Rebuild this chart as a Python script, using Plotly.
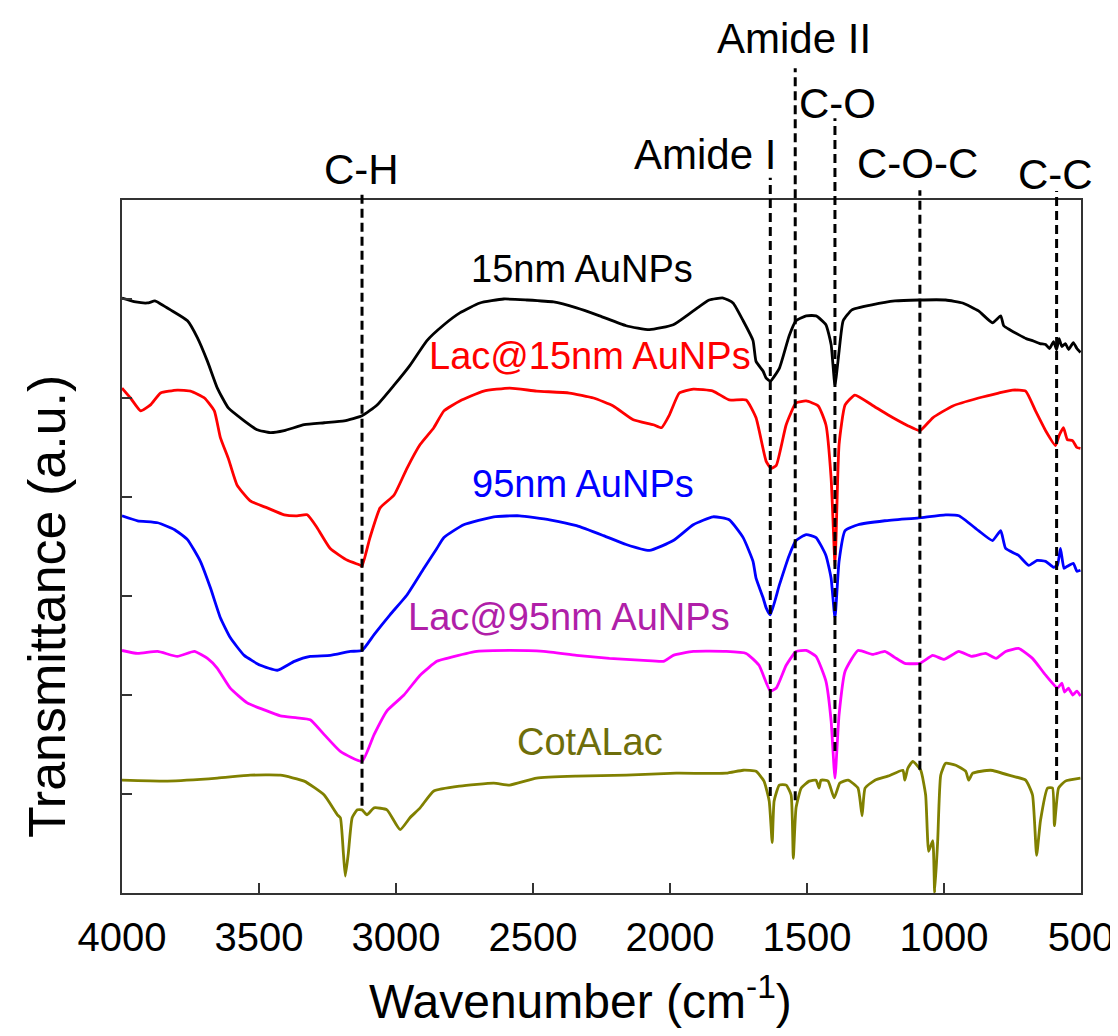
import plotly.graph_objects as go

# ---------------- data (wavenumber in cm-1, transmittance in offset a.u.) ----------------
wn_15 = [4000, 3950, 3907, 3880, 3859, 3823, 3761, 3725, 3688, 3652, 3612, 3554, 3507, 3459, 3408, 3335,
         3262, 3189, 3124, 3069, 3007, 2949, 2887, 2825, 2767, 2694, 2607, 2523, 2425, 2341,
         2257, 2160, 2075, 1988, 1915, 1857, 1806, 1770, 1733, 1697, 1686, 1660, 1649, 1634,
         1601, 1565, 1540, 1503, 1467, 1431, 1412, 1398, 1383, 1368, 1336, 1263, 1179, 1092,
         994, 932, 874, 823, 793, 782, 760, 728, 700, 677, 650, 629, 615, 600, 589, 580, 570,
         557, 545, 528, 515, 502]
t_15 = [6.01, 5.97, 5.96, 5.98, 5.95, 5.89, 5.78, 5.61, 5.37, 5.10, 4.90, 4.77, 4.68, 4.65, 4.67, 4.73,
        4.75, 4.77, 4.82, 4.93, 5.13, 5.33, 5.58, 5.74, 5.86, 5.96, 6.00, 5.99, 5.97, 5.91,
        5.83, 5.73, 5.69, 5.74, 5.88, 5.99, 6.01, 5.96, 5.78, 5.58, 5.37, 5.27, 5.20, 5.17,
        5.30, 5.63, 5.78, 5.83, 5.83, 5.74, 5.54, 5.13, 5.47, 5.78, 5.89, 5.94, 5.98, 5.99,
        5.99, 5.96, 5.88, 5.76, 5.83, 5.73, 5.69, 5.64, 5.60, 5.58, 5.55, 5.54, 5.50, 5.57,
        5.49, 5.60, 5.52, 5.55, 5.49, 5.56, 5.50, 5.46]

wn_lac15 = [4000, 3969, 3932, 3896, 3859, 3798, 3750, 3699, 3663, 3641, 3612, 3580, 3532, 3470,
            3408, 3361, 3324, 3288, 3240, 3177, 3130, 3124, 3095, 3058, 3007, 2960, 2912, 2862,
            2825, 2767, 2680, 2585, 2487, 2367, 2279, 2207, 2134, 2061, 2031, 2002, 1966, 1915,
            1843, 1784, 1722, 1686, 1649, 1631, 1612, 1576, 1540, 1503, 1459, 1431, 1412, 1401,
            1398, 1394, 1383, 1361, 1325, 1263, 1205, 1132, 1088, 1041, 968, 874, 801, 750, 702,
            666, 629, 593, 580, 564, 550, 531, 515, 502]
t_lac15 = [5.10, 5.00, 4.87, 4.93, 5.05, 5.08, 5.07, 5.00, 4.87, 4.60, 4.39, 4.12, 3.96, 3.89,
           3.82, 3.81, 3.82, 3.69, 3.48, 3.36, 3.31, 3.30, 3.59, 3.89, 4.02, 4.29, 4.53, 4.70,
           4.87, 4.97, 5.07, 5.10, 5.07, 5.05, 5.00, 4.92, 4.78, 4.73, 4.70, 4.83, 5.05, 5.09,
           5.07, 4.98, 4.98, 4.80, 4.36, 4.29, 4.32, 4.73, 4.95, 4.97, 4.92, 4.73, 4.19, 3.48,
           3.30, 3.59, 4.53, 4.93, 5.03, 4.93, 4.83, 4.72, 4.67, 4.80, 4.92, 5.00, 5.05, 5.08,
           5.07, 4.87, 4.67, 4.52, 4.62, 4.70, 4.58, 4.57, 4.50, 4.49]

wn_95 = [4000, 3943, 3870, 3808, 3761, 3714, 3677, 3641, 3605, 3554, 3495, 3433, 3371, 3313,
         3240, 3167, 3124, 3080, 3022, 2960, 2898, 2851, 2825, 2753, 2643, 2549, 2439, 2341,
         2243, 2160, 2075, 1988, 1915, 1843, 1784, 1733, 1697, 1686, 1660, 1649, 1634, 1601,
         1565, 1540, 1503, 1467, 1431, 1412, 1398, 1383, 1361, 1314, 1216, 1092, 994, 946, 874,
         823, 793, 775, 728, 691, 660, 629, 600, 586, 575, 562, 550, 528, 515, 502]
t_95 = [3.81, 3.76, 3.74, 3.67, 3.57, 3.35, 3.08, 2.78, 2.58, 2.40, 2.30, 2.25, 2.34, 2.39,
        2.40, 2.44, 2.45, 2.61, 2.81, 3.01, 3.28, 3.48, 3.59, 3.72, 3.80, 3.81, 3.77, 3.71,
        3.61, 3.52, 3.46, 3.56, 3.72, 3.80, 3.77, 3.59, 3.35, 3.18, 2.98, 2.88, 2.81, 3.11,
        3.41, 3.56, 3.62, 3.59, 3.41, 3.18, 2.78, 3.35, 3.66, 3.72, 3.76, 3.79, 3.82, 3.81,
        3.66, 3.56, 3.66, 3.48, 3.41, 3.31, 3.36, 3.35, 3.29, 3.31, 3.48, 3.28, 3.30, 3.33,
        3.25, 3.26]

wn_lac95 = [4000, 3943, 3870, 3798, 3736, 3688, 3652, 3605, 3543, 3481, 3422, 3361, 3313, 3262,
            3203, 3124, 3080, 3033, 2971, 2912, 2851, 2814, 2705, 2585, 2461, 2341, 2221, 2097,
            2024, 1988, 1915, 1795, 1722, 1675, 1634, 1612, 1576, 1540, 1503, 1467, 1431, 1412,
            1398, 1383, 1361, 1314, 1260, 1216, 1180, 1143, 1088, 1041, 1000, 946, 900, 848, 810,
            775, 728, 677, 629, 586, 570, 560, 546, 530, 515, 502]
t_lac95 = [2.45, 2.42, 2.44, 2.39, 2.44, 2.37, 2.27, 2.07, 1.92, 1.85, 1.79, 1.77, 1.75, 1.60,
           1.43, 1.33, 1.60, 1.84, 2.00, 2.20, 2.34, 2.37, 2.44, 2.45, 2.44, 2.40, 2.37, 2.35,
           2.34, 2.40, 2.44, 2.44, 2.42, 2.30, 2.04, 2.07, 2.30, 2.44, 2.45, 2.39, 2.14, 1.74,
           1.16, 1.80, 2.24, 2.45, 2.41, 2.44, 2.38, 2.32, 2.32, 2.40, 2.36, 2.44, 2.39, 2.42,
           2.37, 2.44, 2.47, 2.37, 2.20, 2.07, 2.12, 2.03, 2.07, 2.00, 2.04, 1.99]

wn_cota = [4000, 3834, 3652, 3532, 3422, 3335, 3262, 3214, 3203, 3192, 3185, 3174, 3160, 3141,
           3124, 3106, 3080, 3033, 2985, 2949, 2912, 2862, 2767, 2643, 2585, 2487, 2341, 2160,
           1977, 1795, 1733, 1686, 1657, 1638, 1627, 1620, 1601, 1576, 1558, 1550, 1540, 1521,
           1492, 1467, 1456, 1449, 1423, 1401, 1380, 1350, 1314, 1299, 1288, 1252, 1205, 1150,
           1143, 1132, 1114, 1085, 1067, 1056, 1041, 1034, 1023, 1012, 994, 957, 921, 910, 895,
           830, 750, 702, 677, 662, 648, 622, 604, 597, 582, 557, 502]
t_cota = [1.14, 1.13, 1.16, 1.19, 1.19, 1.13, 0.99, 0.79, 0.76, 0.40, 0.17, 0.40, 0.76, 0.84,
          0.84, 0.79, 0.86, 0.84, 0.64, 0.76, 0.86, 1.03, 1.08, 1.11, 1.09, 1.16, 1.18, 1.19,
          1.21, 1.21, 1.24, 1.23, 1.13, 0.93, 0.51, 0.93, 1.09, 1.09, 0.99, 0.35, 0.86, 1.06,
          1.13, 1.14, 1.06, 1.14, 1.13, 0.96, 1.11, 1.14, 1.06, 0.78, 1.06, 1.14, 1.18, 1.24,
          1.14, 1.26, 1.33, 1.24, 0.99, 0.42, 0.53, 0.00, 0.53, 1.19, 1.31, 1.29, 1.23, 1.14,
          1.21, 1.24, 1.18, 1.14, 0.99, 0.38, 0.73, 1.06, 1.06, 0.68, 1.06, 1.13, 1.16]

series_names = ["15nm AuNPs", "Lac@15nm AuNPs", "95nm AuNPs", "Lac@95nm AuNPs", "CotALac"]
series_x = [wn_15, wn_lac15, wn_95, wn_lac95, wn_cota]
series_y = [t_15, t_lac15, t_95, t_lac95, t_cota]
line_colors = ["#000000", "#FF0000", "#0000FF", "#FF00FF", "#808000"]
label_colors = ["#000000", "#FF0000", "#0000FF", "#B01FA8", "#6E6E0A"]
label_wn = [2323, 2293, 2319, 2370, 2293]
label_t = [6.30, 5.42, 4.13, 2.79, 1.53]

band_names = ["C-H", "Amide I", "Amide II", "C-O", "C-O-C", "C-C"]
band_wn = [3124, 1634, 1543, 1398, 1088, 589]
band_label_wn = [3127, 1871, 1547, 1390, 1095, 593]
# paper-fraction extents of the dashed marker lines
band_line_top = [1.013, 1.032, 1.190, 1.118, 1.014, 1.013]
band_line_bottom = [0.126, 0.140, 0.134, 0.205, 0.178, 0.163]
band_label_y = [1.044, 1.066, 1.233, 1.139, 1.053, 1.037]

x_ticks = [4000, 3500, 3000, 2500, 2000, 1500, 1000, 500]
y_ticks = [0, 1, 2, 3, 4, 5, 6, 7]

FONT = "Liberation Sans, Arial, sans-serif"

fig = go.Figure()
for name, xs, ys, col in zip(series_names, series_x, series_y, line_colors):
    fig.add_trace(go.Scatter(x=xs, y=ys, mode="lines", name=name,
                             line=dict(color=col, width=2.8, shape="spline", smoothing=0.45)))

for bx, top, bot in zip(band_wn, band_line_top, band_line_bottom):
    fig.add_shape(type="line", xref="x", yref="paper", x0=bx, x1=bx, y0=bot, y1=top,
                  line=dict(color="black", width=3, dash="9px,5px"), layer="above")

for name, bx, by in zip(band_names, band_label_wn, band_label_y):
    fig.add_annotation(text=name, x=bx, y=by, xref="x", yref="paper", showarrow=False,
                       font=dict(size=42, color="black", family=FONT),
                       xanchor="center", yanchor="middle")

for name, lx, ly, col in zip(series_names, label_wn, label_t, label_colors):
    fig.add_annotation(text=name, x=lx, y=ly, xref="x", yref="y", showarrow=False,
                       font=dict(size=38, color=col, family=FONT),
                       xanchor="center", yanchor="middle")

# axis titles placed as annotations for precise positioning
fig.add_annotation(text="Wavenumber (cm<sup>-1</sup>)", x=0.478, y=-0.152, xref="paper", yref="paper",
                   showarrow=False, xanchor="center", yanchor="middle",
                   font=dict(size=48, color="black", family=FONT))
fig.add_annotation(text="Transmittance (a.u.)", x=-0.078, y=0.413, xref="paper", yref="paper",
                   showarrow=False, xanchor="center", yanchor="middle", textangle=-90,
                   font=dict(size=52, color="black", family=FONT))

fig.update_layout(
    width=1118, height=1036,
    margin=dict(l=114, r=42, t=192, b=151),
    paper_bgcolor="white", plot_bgcolor="white",
    showlegend=False,
    font=dict(family=FONT, color="black"),
)
fig.update_xaxes(
    range=[4000, 500], tickvals=x_ticks, ticktext=[str(v) for v in x_ticks],
    ticks="inside", ticklen=10, tickwidth=1.5, tickcolor="#333",
    showline=True, linecolor="#333", linewidth=2, mirror=True,
    showgrid=False, zeroline=False, ticklabelstandoff=8,
    tickfont=dict(size=40, family=FONT, color="black"),
)
fig.update_yaxes(
    range=[0, 7], tickvals=y_ticks, showticklabels=False,
    ticks="inside", ticklen=10, tickwidth=1.5, tickcolor="#333",
    showline=True, linecolor="#333", linewidth=2, mirror=True,
    showgrid=False, zeroline=False,
)

fig.write_html("out.html")
